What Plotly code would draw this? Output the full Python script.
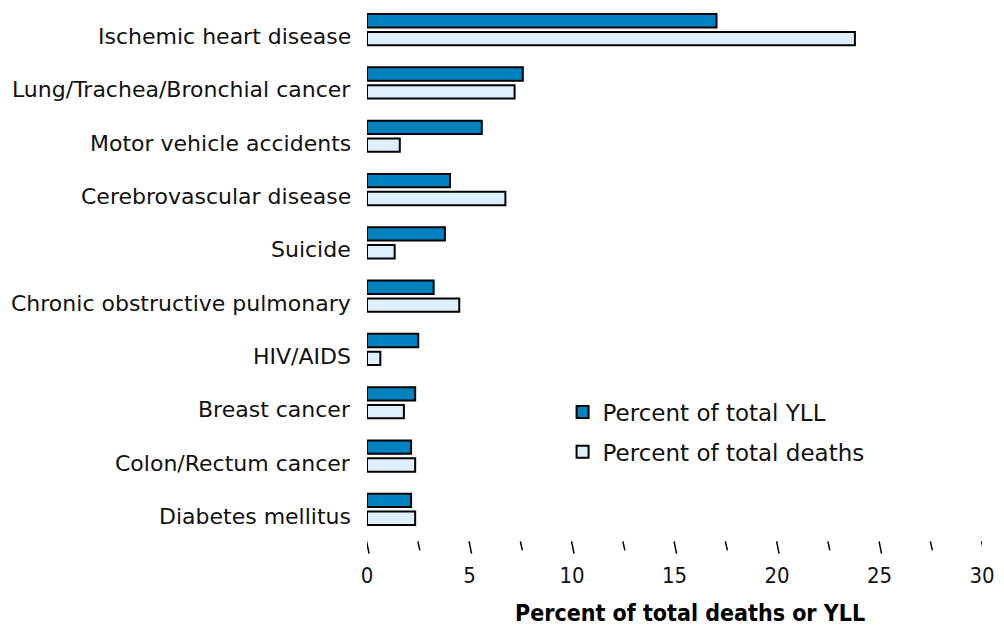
import plotly.graph_objects as go

categories = ["Ischemic heart disease", "Lung/Trachea/Bronchial cancer", "Motor vehicle accidents",
              "Cerebrovascular disease", "Suicide", "Chronic obstructive pulmonary", "HIV/AIDS",
              "Breast cancer", "Colon/Rectum cancer", "Diabetes mellitus"]
yll = [17.05, 7.6, 5.6, 4.05, 3.8, 3.25, 2.5, 2.35, 2.15, 2.15]
deaths = [23.8, 7.2, 1.6, 6.75, 1.35, 4.5, 0.65, 1.8, 2.35, 2.35]
major_ticks = [0, 5, 10, 15, 20, 25, 30]
minor_ticks = [2.5, 7.5, 12.5, 17.5, 22.5, 27.5]

FONT = "DejaVu Sans"
COND = "DejaVu Sans Condensed"
TXT = "#111"

fig = go.Figure()
fig.add_trace(go.Bar(y=categories, x=yll, orientation="h", name="Percent of total YLL",
                     legendgroup="a",
                     marker=dict(color="#0082C0", line=dict(color="black", width=2))))
fig.add_trace(go.Bar(y=categories, x=deaths, orientation="h", name="Percent of total deaths",
                     legendgroup="b",
                     marker=dict(color="#DEEFFC", line=dict(color="black", width=2))))

for t in major_ticks:
    fig.add_shape(type="line", xref="x", yref="paper", x0=t - 0.02, x1=t + 0.1, y0=-0.01, y1=-0.033,
                  line=dict(color="black", width=1.5))
for t in minor_ticks:
    fig.add_shape(type="line", xref="x", yref="paper", x0=t - 0.02, x1=t + 0.08, y0=-0.01, y1=-0.027,
                  line=dict(color="black", width=1.5))

# category labels (slightly below the category centre, as in the original)
for c in categories:
    fig.add_annotation(text=c, xref="paper", yref="y", x=0, y=c, xanchor="right", yanchor="middle",
                       xshift=-14, yshift=-7, showarrow=False,
                       font=dict(family=FONT, size=22, color=TXT))

fig.add_annotation(text="<b>Percent of total deaths or YLL</b>", xref="paper", yref="paper",
                   x=0.525, y=-0.145, showarrow=False, yanchor="middle",
                   font=dict(family=COND, size=23, color="black"))

fig.update_layout(
    width=1004, height=629,
    margin=dict(l=367, r=22, t=3, b=93),
    paper_bgcolor="white", plot_bgcolor="white",
    barmode="group", bargap=0.33, bargroupgap=0.25,
    showlegend=True,
    legend=dict(x=0.318, y=0.273, xanchor="left", yanchor="top", traceorder="grouped",
                font=dict(family=FONT, size=23, color=TXT), bgcolor="rgba(0,0,0,0)",
                itemwidth=30, tracegroupgap=7),
    font=dict(family=FONT, size=22, color=TXT),
    yaxis=dict(autorange="reversed", showline=False, showgrid=False, ticks="", showticklabels=False),
)
fig.update_xaxes(range=[0, 30], tickvals=major_ticks, showline=False, showgrid=False, zeroline=False,
                 ticks="outside", ticklen=20, tickcolor="rgba(0,0,0,0)",
                 tickfont=dict(family=COND, size=22, color=TXT))

fig.write_html("out.html", config={"displayModeBar": False},
               post_script="document.body.style.margin='0px';")
